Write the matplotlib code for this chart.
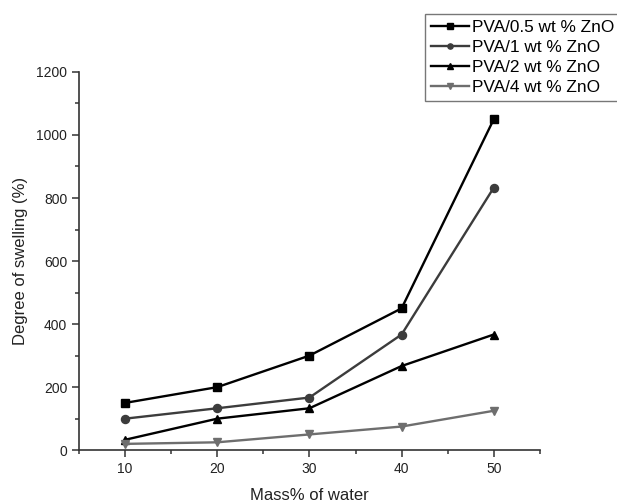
import matplotlib
matplotlib.use("Agg")
import matplotlib.pyplot as plt
from matplotlib.ticker import MultipleLocator

plt.rcParams["font.family"] = ["Liberation Sans", "DejaVu Sans"]

# mass % of water
water = [10, 20, 30, 40, 50]

# degree of swelling (%) per ZnO loading
pva_05 = [150, 200, 300, 450, 1050]
pva_1 = [100, 133, 167, 367, 833]
pva_2 = [33, 100, 133, 267, 367]
pva_4 = [20, 25, 50, 75, 125]

labels = ["PVA/0.5 wt % ZnO", "PVA/1 wt % ZnO", "PVA/2 wt % ZnO", "PVA/4 wt % ZnO"]
series = [pva_05, pva_1, pva_2, pva_4]
colors = ["#000000", "#3c3c3c", "#000000", "#6e6e6e"]
markers = ["s", "o", "^", "v"]

fig = plt.figure(figsize=(6.17, 5.03), dpi=100)
ax = fig.add_axes([0.128, 0.105, 0.747, 0.752])

for ys, label, color, marker in zip(series, labels, colors, markers):
    ax.plot(water, ys, color=color, marker=marker, markersize=5.8,
            linewidth=1.7, label=label, clip_on=False, zorder=3)

ax.set_xlim(5, 55)
ax.set_ylim(0, 1200)
ax.xaxis.set_major_locator(MultipleLocator(10))
ax.xaxis.set_minor_locator(MultipleLocator(5))
ax.yaxis.set_major_locator(MultipleLocator(200))
ax.yaxis.set_minor_locator(MultipleLocator(100))

for side in ("top", "right"):
    ax.spines[side].set_visible(False)
for side in ("left", "bottom"):
    ax.spines[side].set_color("#333333")
    ax.spines[side].set_linewidth(1.2)

ax.tick_params(which="major", direction="out", length=5, width=1.1,
               colors="#333333", labelsize=10, labelcolor="#222222")
ax.tick_params(which="minor", direction="out", length=3, width=1.1,
               colors="#333333")

ax.set_xlabel("Mass% of water", fontsize=12, color="#222222", labelpad=9)
ax.set_ylabel("Degree of swelling (%)", fontsize=12, color="#222222", labelpad=6)

leg = fig.legend(loc="upper left", bbox_to_anchor=(0.689, 0.972),
                 fontsize=12.4, frameon=True, fancybox=False,
                 edgecolor="#555555", handlelength=2.2, handletextpad=0.2,
                 labelspacing=0.28, borderpad=0.35, borderaxespad=0,
                 markerscale=0.65)
leg.get_frame().set_linewidth(1.0)

fig.savefig("out.png", dpi=100)
